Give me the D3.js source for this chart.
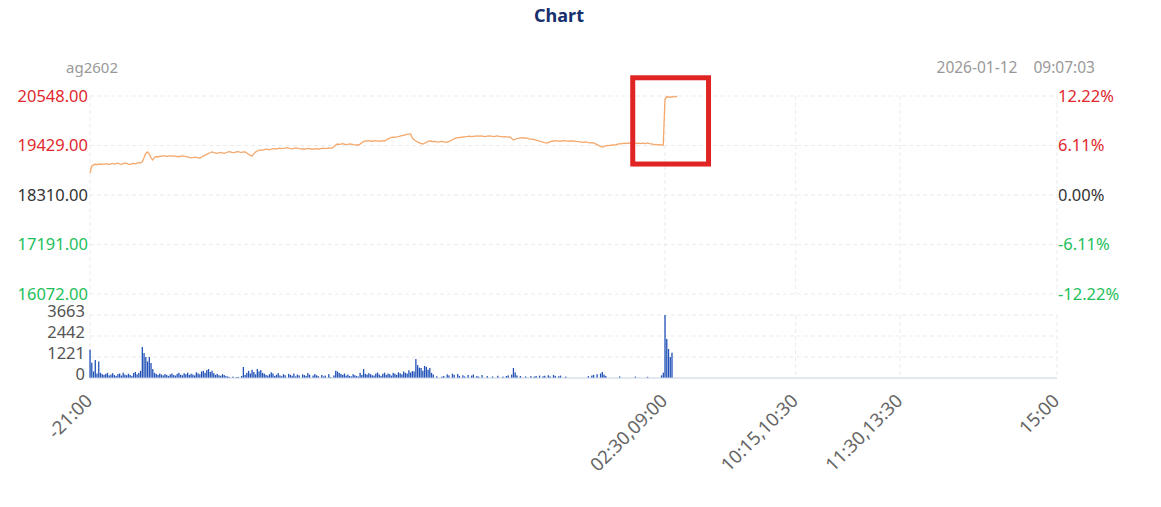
<!DOCTYPE html>
<html>
<head>
<meta charset="utf-8">
<script src="https://cdn.jsdelivr.net/npm/d3@7"></script>
<style>
  body { margin: 0; background: #fff; }
  svg { font-family: "Noto Sans", "Open Sans", sans-serif; }
</style>
</head>
<body>
<div id="chart"></div>
<script>
// minute index from 21:00 (night 21:00-02:30, then 09:00-10:15, 10:30-11:30, 13:30-15:00)
const totalMinutes = 555;
const xTickMinutes = [0, 330, 405, 465, 555];
const xTickLabels = ['-21:00', '02:30,09:00', '10:15,10:30', '11:30,13:30', '15:00'];

const preClose = 18310;
const priceTicks = [16072, 17191, 18310, 19429, 20548];
const pctTicks = ['-12.22%', '-6.11%', '0.00%', '6.11%', '12.22%'];
const volTicks = [0, 1221, 2442, 3663];

const symbol = 'ag2602';
const stamp = '2026-01-12\u00a0\u00a009:07:03';

// price per minute
const prices = [
  18807, 18960, 18990, 19005, 18995, 19010, 19000, 19015, 19005, 19020,
  19010, 19000, 19015, 19025, 19010, 19020, 19030, 19015, 19005, 19020,
  19030, 19025, 19010, 19000, 19020, 19025, 19015, 19030, 19040, 19035,
  19060, 19150, 19250, 19282, 19240, 19150, 19101, 19160, 19180, 19170,
  19190, 19185, 19200, 19195, 19180, 19190, 19200, 19185, 19195, 19190,
  19180, 19175, 19185, 19195, 19190, 19180, 19170, 19160, 19150, 19155,
  19165, 19160, 19150, 19146, 19170, 19190, 19210, 19230, 19250, 19265,
  19282, 19270, 19260, 19250, 19265, 19275, 19260, 19250, 19265, 19280,
  19290, 19280, 19270, 19275, 19285, 19290, 19280, 19275, 19285, 19282,
  19260, 19230, 19205, 19192, 19240, 19280, 19305, 19320, 19330, 19325,
  19335, 19345, 19340, 19330, 19350, 19360, 19355, 19350, 19365, 19370,
  19360, 19365, 19372, 19380, 19370, 19360, 19355, 19365, 19375, 19370,
  19360, 19355, 19350, 19345, 19355, 19365, 19360, 19350, 19345, 19355,
  19360, 19350, 19355, 19365, 19370, 19360, 19365, 19375, 19370, 19372,
  19400, 19440, 19463, 19455, 19460, 19470, 19460, 19450, 19455, 19465,
  19460, 19450, 19445, 19440, 19440, 19460, 19490, 19515, 19531, 19535,
  19540, 19530, 19525, 19535, 19540, 19530, 19525, 19535, 19540, 19531,
  19550, 19580, 19598, 19610, 19620, 19615, 19625, 19630, 19640, 19650,
  19660, 19670, 19680, 19685, 19689, 19598, 19560, 19530, 19510, 19490,
  19475, 19463, 19480, 19500, 19520, 19531, 19525, 19515, 19520, 19510,
  19505, 19515, 19520, 19510, 19500, 19508, 19520, 19540, 19560, 19580,
  19595, 19605, 19610, 19615, 19621, 19625, 19630, 19635, 19640, 19630,
  19635, 19640, 19645, 19640, 19644, 19640, 19635, 19630, 19640, 19645,
  19640, 19635, 19630, 19640, 19645, 19635, 19630, 19625, 19630, 19625,
  19620, 19621, 19590, 19553, 19570, 19585, 19590, 19600, 19605, 19598,
  19600, 19590, 19580, 19575, 19570, 19560, 19550, 19545, 19530, 19520,
  19505, 19495, 19486, 19495, 19510, 19525, 19531, 19535, 19540, 19530,
  19525, 19535, 19540, 19535, 19530, 19525, 19535, 19531, 19525, 19520,
  19515, 19510, 19505, 19500, 19510, 19505, 19495, 19490, 19495, 19486,
  19470, 19450, 19430, 19410, 19395, 19405, 19420, 19430, 19425, 19435,
  19440, 19445, 19450, 19460, 19470, 19465, 19475, 19480, 19470, 19480,
  19486, 19480, 19490, 19485, 19475, 19480, 19470, 19480, 19475, 19470,
  19486, 19470, 19465, 19460, 19450, 19455, 19445, 19450, 19440, 19440,
  20470, 20530, 20525, 20520, 20535, 20530, 20540, 20535
];

// volume per minute
const volumes = [
  1650, 890, 380, 1045, 260, 960, 300, 220, 180, 240,
  300, 150, 200, 280, 170, 120, 230, 260, 140, 310,
  200, 160, 250, 180, 120, 290, 350, 210, 300, 420,
  1800, 1450, 1220, 960, 1220, 870, 520, 300, 240, 180,
  260, 200, 150, 230, 180, 120, 210, 260, 170, 140,
  240, 300, 190, 160, 280, 220, 310, 180, 250, 200,
  150, 330, 270, 210, 380, 420, 300, 460, 520, 350,
  420, 280, 180, 240, 160, 130, 220, 170, 110, 90,
  60, 0, 80, 0, 50, 70, 0, 120, 640, 180,
  300, 420, 260, 480, 350, 210, 525, 380, 460, 300,
  250, 180, 140, 220, 330, 260, 120, 190, 280, 150,
  100, 220, 160, 0, 240, 180, 130, 260, 90, 200,
  150, 0, 210, 170, 120, 280, 190, 0, 140, 230,
  160, 110, 0, 180, 90, 140, 0, 220, 60, 0,
  150, 420, 380, 300, 240, 180, 260, 140, 200, 120,
  90, 220, 160, 120, 80, 300, 180, 520, 240, 200,
  280, 220, 160, 140, 260, 320, 200, 120, 240, 310,
  180, 260, 220, 140, 300, 250, 180, 330, 270, 210,
  380, 300, 260, 450, 320, 400, 380, 1100, 750, 600,
  580, 420, 700, 650, 480, 580, 300, 200, 0, 100,
  0, 0, 80, 120, 0, 210, 150, 0, 250, 180,
  0, 230, 120, 0, 160, 90, 0, 180, 0, 140,
  200, 0, 120, 80, 0, 170, 0, 0, 110, 0,
  0, 90, 0, 0, 130, 0, 0, 80, 0, 120,
  150, 0, 200, 580, 320, 150, 0, 120, 0, 0,
  90, 0, 0, 110, 0, 80, 120, 0, 140, 0,
  100, 130, 0, 160, 90, 0, 180, 120, 0, 100,
  140, 0, 0, 80, 0, 0, 0, 0, 0, 0,
  0, 0, 0, 0, 0, 0, 110, 0, 140, 180,
  0, 220, 0, 260, 350, 200, 120, 0, 0, 0,
  0, 0, 0, 0, 90, 0, 0, 0, 0, 0,
  0, 0, 0, 80, 0, 0, 0, 0, 0, 0,
  70, 0, 0, 0, 0, 0, 0, 0, 150, 310,
  3663, 2270, 1685, 1220, 1470, 0, 0, 0
];

// highlight box around the open jump (minutes, prices)
const boxMinutes = [311.5, 355];
const boxPrices = [19010, 20960];

const width = 1161;
const height = 507;
const axisFont = 16.5;

const svg = d3.select('#chart')
  .append('svg')
  .attr('width', width)
  .attr('height', height);

const x = d3.scaleLinear().domain([0, totalMinutes]).range([90, 1057]);
const y = d3.scaleLinear().domain([16072, 20548]).range([294, 96]);
const yVol = d3.scaleLinear().domain([0, 3663]).range([378, 315]);

const tickColor = (v) => v > preClose ? '#e0282e' : (v < preClose ? '#1ec05a' : '#333');

// title
svg.append('text')
  .attr('x', 559).attr('y', 22)
  .attr('text-anchor', 'middle')
  .attr('font-size', 18).attr('font-weight', 'bold')
  .attr('fill', '#16306e')
  .text('Chart');

svg.append('text')
  .attr('x', 92).attr('y', 73)
  .attr('text-anchor', 'middle')
  .attr('font-size', 15).attr('fill', '#999')
  .text(symbol);

svg.append('text')
  .attr('x', 1095).attr('y', 73)
  .attr('text-anchor', 'end')
  .attr('font-size', 15.5).attr('fill', '#999')
  .attr('word-spacing', 4)
  .text(stamp);

// grid
const grid = svg.append('g').attr('stroke', '#ebebeb').attr('stroke-dasharray', '4,3');
grid.selectAll('.hp').data(priceTicks).enter().append('line')
  .attr('x1', x(0)).attr('x2', x(totalMinutes))
  .attr('y1', d => y(d)).attr('y2', d => y(d));
grid.selectAll('.hv').data(volTicks.slice(1)).enter().append('line')
  .attr('x1', x(0)).attr('x2', x(totalMinutes))
  .attr('y1', d => yVol(d)).attr('y2', d => yVol(d));
grid.selectAll('.vp').data(xTickMinutes).enter().append('line')
  .attr('x1', d => x(d)).attr('x2', d => x(d))
  .attr('y1', y(20548)).attr('y2', y(16072));
grid.selectAll('.vv').data(xTickMinutes).enter().append('line')
  .attr('x1', d => x(d)).attr('x2', d => x(d))
  .attr('y1', yVol(3663)).attr('y2', yVol(0));

// left price axis
const leftAxis = svg.append('g')
  .attr('transform', `translate(${x(0) - 2},0)`)
  .call(d3.axisLeft(y).tickValues(priceTicks).tickSize(0).tickPadding(0).tickFormat(d => d.toFixed(2)));
leftAxis.select('.domain').remove();
leftAxis.selectAll('text')
  .attr('font-size', axisFont)
  .attr('font-family', '"Noto Sans", sans-serif')
  .attr('fill', d => tickColor(d));

// right percent axis
const rightAxis = svg.append('g')
  .attr('transform', `translate(${x(totalMinutes) + 1},0)`)
  .call(d3.axisRight(y).tickValues(priceTicks).tickSize(0).tickPadding(0)
    .tickFormat((d, i) => pctTicks[i]));
rightAxis.select('.domain').remove();
rightAxis.selectAll('text')
  .attr('font-size', axisFont)
  .attr('font-family', '"Noto Sans", sans-serif')
  .attr('fill', d => tickColor(d));

// volume axis
const volAxis = svg.append('g')
  .attr('transform', `translate(${x(0) - 5},0)`)
  .call(d3.axisLeft(yVol).tickValues(volTicks).tickSize(0).tickPadding(0).tickFormat(d => String(d)));
volAxis.select('.domain').remove();
volAxis.selectAll('text')
  .attr('font-size', axisFont)
  .attr('dy', '0.12em')
  .attr('font-family', '"Noto Sans", sans-serif')
  .attr('fill', '#555');

// volume bars
svg.append('g')
  .selectAll('rect')
  .data(volumes)
  .enter().append('rect')
    .attr('x', (d, i) => x(i) - 0.6)
    .attr('width', 1.3)
    .attr('y', d => yVol(d))
    .attr('height', d => yVol(0) - yVol(d))
    .attr('fill', '#2151b7');

// volume baseline
svg.append('line')
  .attr('x1', x(0)).attr('x2', x(totalMinutes))
  .attr('y1', yVol(0)).attr('y2', yVol(0))
  .attr('stroke', '#c6d2e6').attr('stroke-width', 1.2);

// price line
const line = d3.line()
  .x((d, i) => x(i))
  .y(d => y(d));

svg.append('path')
  .datum(prices)
  .attr('d', line)
  .attr('fill', 'none')
  .attr('stroke', '#f4a86c')
  .attr('stroke-width', 1.3);

// x axis labels
const xAxis = svg.append('g')
  .attr('transform', `translate(0,${yVol(0)})`)
  .call(d3.axisBottom(x).tickValues(xTickMinutes).tickSize(0).tickPadding(0)
    .tickFormat((d, i) => xTickLabels[i]));
xAxis.select('.domain').remove();
xAxis.selectAll('text')
  .attr('font-size', 18.5)
  .attr('font-family', '"Noto Sans", sans-serif')
  .attr('fill', '#666')
  .attr('text-anchor', 'end')
  .attr('dy', 0)
  .attr('transform', 'translate(3,24) rotate(-45)');

// highlight box
svg.append('rect')
  .attr('x', x(boxMinutes[0]))
  .attr('y', y(boxPrices[1]))
  .attr('width', x(boxMinutes[1]) - x(boxMinutes[0]))
  .attr('height', y(boxPrices[0]) - y(boxPrices[1]))
  .attr('fill', 'none')
  .attr('stroke', '#e02424')
  .attr('stroke-width', 5);
</script>
</body>
</html>
